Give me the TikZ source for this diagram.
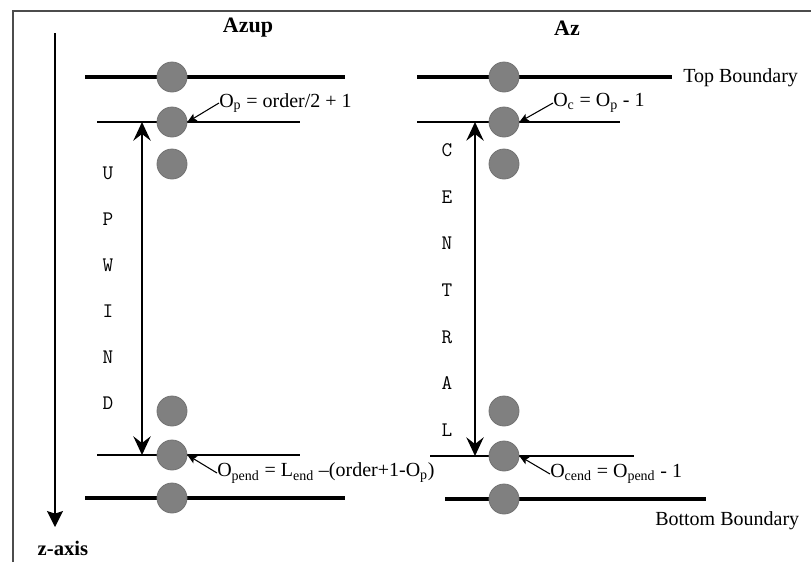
\documentclass[tikz,border=0pt]{standalone}
\usepackage{fontspec}
\setmainfont{Liberation Serif}
\usetikzlibrary{arrows.meta}

\tikzset{
  grid point/.style={circle, draw=black!55, fill=black!50, line width=0.6pt,
    minimum size=22.5pt, inner sep=0pt},
  boundary/.style={line width=2.5pt},
  inner line/.style={line width=1pt},
  span arrow/.style={line width=1.3pt,
    {Stealth[length=14pt,width=13pt,inset=5pt]}-{Stealth[length=14pt,width=13pt,inset=5pt]}},
  pointer/.style={line width=0.8pt, -{Stealth[length=7pt,width=6pt,inset=1.5pt]}},
  formula/.style={anchor=west, inner sep=0pt, font=\fontsize{15}{18}\selectfont},
  caption/.style={inner sep=0pt, font=\fontsize{15}{18}\selectfont},
  title/.style={inner sep=0pt, font=\bfseries\fontsize{16.5}{20}\selectfont},
  spelled/.style={inner sep=0pt, font=\ttfamily\fontsize{15.5}{18}\selectfont}
}

\begin{document}
\begin{tikzpicture}[x=0.75pt, y=-0.75pt]
  \useasboundingbox (0,0) rectangle (811,562);

  % frame (open to the right and bottom)
  \draw[line width=2pt, black!70] (13,562) -- (13,11) -- (811,11);

  % depth axis
  \coordinate (ztop) at (55,33);
  \coordinate (zbot) at (55,527);
  \draw[line width=1.3pt, -{Stealth[length=12pt,width=12pt,inset=2pt]}] (ztop) -- (zbot);
  \node[inner sep=0pt, font=\bfseries\fontsize{15.5}{18}\selectfont] (zlabel) at (63,548) {z-axis};

  % column titles
  \node[title] (tup) at (248,28) {Azup};
  \node[title] (tc) at (567,28) {Az};

  % ---------- upwind column ----------
  \draw[boundary] (85,77) -- (345,77);
  \draw[inner line] (97,122) -- (300,122);
  \draw[inner line] (97,455) -- (300,455);
  \draw[boundary] (85,498) -- (345,498);

  \node[grid point] (u1) at (172,77) {};
  \node[grid point] (u2) at (172,122) {};
  \node[grid point] (u3) at (172,164) {};
  \node[grid point] (u4) at (172,411) {};
  \node[grid point] (u5) at (172,455) {};
  \node[grid point] (u6) at (172,498) {};

  \coordinate (ua) at (142,122);
  \coordinate (ub) at (142,455);
  \draw[span arrow] (ua) -- (ub);

  \foreach \ch/\yy [count=\i] in {U/173, P/219, W/265, I/311, N/357, D/403}
    \node[spelled] (up\i) at (108,\yy) {\ch};

  \node[formula] (op) at (219,103) {O\textsubscript{p} = order/2 + 1};
  \draw[pointer] (op.west) -- (u2.east);

  \node[formula] (opend) at (217,473) {O\textsubscript{pend} = L\textsubscript{end} –(order+1-O\textsubscript{p})};
  \draw[pointer] (opend.west) -- (u5.east);

  % ---------- central column ----------
  \draw[boundary] (417,77) -- (672,77);
  \draw[inner line] (417,122) -- (620,122);
  \draw[inner line] (430,456) -- (634,456);
  \draw[boundary] (445,499) -- (706,499);

  \node[grid point] (c1) at (504,77) {};
  \node[grid point] (c2) at (504,122) {};
  \node[grid point] (c3) at (504,164) {};
  \node[grid point] (c4) at (504,411) {};
  \node[grid point] (c5) at (504,456) {};
  \node[grid point] (c6) at (504,499) {};

  \coordinate (ca) at (475,122);
  \coordinate (cb) at (475,456);
  \draw[span arrow] (ca) -- (cb);

  \foreach \ch/\yy [count=\i] in {C/150, E/197, N/243, T/290, R/337, A/383, L/430}
    \node[spelled] (ce\i) at (447,\yy) {\ch};

  \node[formula] (oc) at (553,103) {O\textsubscript{c} = O\textsubscript{p} - 1};
  \draw[pointer] (oc.west) -- (c2.east);

  \node[formula] (ocend) at (550,474) {O\textsubscript{cend} = O\textsubscript{pend} - 1};
  \draw[pointer] (ocend.west) -- (c5.east);

  % boundary captions
  \node[caption, anchor=west] (topb) at (683,78) {Top Boundary};
  \node[caption, anchor=west] (botb) at (655,521) {Bottom Boundary};
\end{tikzpicture}
\end{document}
